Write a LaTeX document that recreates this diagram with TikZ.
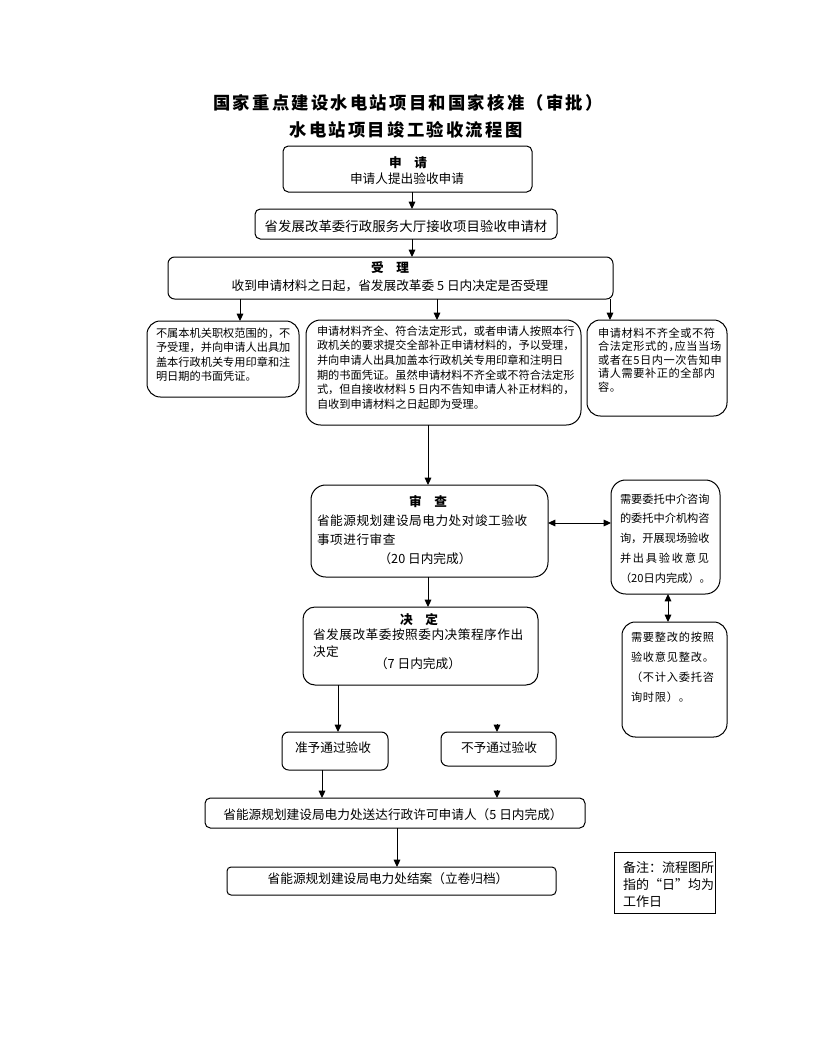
\documentclass[tikz,border=0pt]{standalone}
\usepackage{fontspec}
\setmainfont{Noto Sans CJK SC}
\usetikzlibrary{arrows.meta,calc}
\tikzset{
  box/.style={draw, line width=0.75pt, inner sep=0pt, outer sep=0pt},
  txt/.style={inner sep=0pt, outer sep=0pt, align=left},
  arr/.style={line width=0.75pt, -{Triangle[width=5pt,length=5.5pt]}},
  darr/.style={line width=0.75pt, {Triangle[width=5pt,length=5.5pt]}-{Triangle[width=5pt,length=5.5pt]}},
  mainf/.style={font=\fontsize{9.5}{12}\selectfont},
  headf/.style={font=\fontsize{9.5}{12}\selectfont\bfseries},
  titlef/.style={font=\fontsize{13}{16}\selectfont\bfseries\addfontfeature{LetterSpace=13}},
}
\newcommand\rbox[6]{\node[box, rounded corners=#6, minimum width={(#4-#2)*0.75pt}, minimum height={(#5-#3)*0.75pt}] (#1) at ({(#2+#4)/2},{(#3+#5)/2}) {};}
\begin{document}
\begin{tikzpicture}[x=0.75pt,y=-0.75pt]
\useasboundingbox (0,0) rectangle (816,1056);
% title
\node[txt, titlef] (t1) at (408,103) {国家重点建设水电站项目和国家核准（审批）};
\node[txt, titlef] (t2) at (406,130) {水电站项目竣工验收流程图};
% boxes
\rbox{shenqing}{283}{146}{532}{192}{4pt}
\rbox{jieshou}{255}{209}{557}{239}{4pt}
\rbox{shouli}{168}{257}{613}{299}{5pt}
\rbox{bushu}{147}{321}{299}{397}{10pt}
\rbox{qiquan}{306}{320}{581}{425}{11pt}
\rbox{buqi}{587}{320}{727}{416}{10pt}
\rbox{shencha}{311}{485}{548}{577}{11pt}
\rbox{weituo}{611}{480}{720}{594}{11pt}
\rbox{jueding}{303}{607}{538}{685}{9pt}
\rbox{zhenggai}{622}{622}{727}{737}{10pt}
\rbox{zhunyu}{282}{732}{388}{770}{5pt}
\rbox{buyu}{441}{732}{556}{766}{5pt}
\rbox{songda}{205}{798}{585}{828}{4pt}
\rbox{jiean}{227}{867}{556}{895}{3pt}
\rbox{beizhu}{614}{852}{715}{913}{0pt}
% texts
\node[txt, headf] (sq1) at (408,163) {申　请};
\node[txt, mainf] (sq2) at (407,179) {申请人提出验收申请};
\node[txt, mainf, font=\addfontfeature{LetterSpace=1}] (js1) at (406,226) {省发展改革委行政服务大厅接收项目验收申请材};
\node[txt, headf] (sl1) at (390,268) {受　理};
\node[txt, mainf] (sl2) at (390,286) {收到申请材料之日起，省发展改革委 5 日内决定是否受理};
\node[txt, anchor=north west, font=\fontsize{8.4}{10.9}\selectfont] (bs) at (156,327.7) {不属本机关职权范围的，不\\予受理，并向申请人出具加\\盖本行政机关专用印章和注\\明日期的书面凭证。};
\node[txt, anchor=north west, font=\fontsize{8.4}{10.95}\selectfont] (qq) at (317,325.7) {申请材料齐全、符合法定形式，或者申请人按照本行\\政机关的要求提交全部补正申请材料的，予以受理，\\并向申请人出具加盖本行政机关专用印章和注明日\\期的书面凭证。虽然申请材料不齐全或不符合法定形\\式，但自接收材料 5 日内不告知申请人补正材料的，\\自收到申请材料之日起即为受理。};
\node[txt, anchor=north west, font=\fontsize{8.4}{10.1}\selectfont\addfontfeature{LetterSpace=5,RawFeature=+halt}] (bq) at (598,327.7) {申请材料不齐全或不符\\合法定形式的，应当当场\\或者在5日内一次告知申\\请人需要补正的全部内\\容。};
\node[txt, headf] (sc1) at (428,502) {审　查};
\node[txt, anchor=north west, font=\fontsize{9.5}{14.25}\selectfont\addfontfeature{LetterSpace=4}] (sc2) at (317,515) {省能源规划建设局电力处对竣工验收\\事项进行审查};
\node[txt, mainf] (sc3) at (425,559) {（20 日内完成）};
\node[txt, anchor=north west, font=\fontsize{8.4}{14.8}\selectfont] (wt) at (620,493.7) {需要委托中介咨询\\的委托中介机构咨\\询，开展现场验收\\{\addfontfeature{LetterSpace=16}并出具验收意见}\\（20日内完成）。};
\node[txt, headf] (jd1) at (419,620) {决　定};
\node[txt, anchor=north west, font=\fontsize{9.5}{12.75}\selectfont\addfontfeature{LetterSpace=4}] (jd2) at (313,629) {省发展改革委按照委内决策程序作出\\决定};
\node[txt, mainf] (jd3) at (418,664) {（7 日内完成）};
\node[txt, anchor=north west, font=\fontsize{8.4}{15.2}\selectfont\addfontfeature{LetterSpace=7}] (zg) at (631,631.7) {需要整改的按照\\验收意见整改。\\（不计入委托咨\\询时限）。};
\node[txt, mainf] (zy) at (333,748) {准予通过验收};
\node[txt, mainf] (by) at (499,748) {不予通过验收};
\node[txt, mainf] (sd) at (393,815) {省能源规划建设局电力处送达行政许可申请人（5 日内完成）};
\node[txt, mainf] (ja) at (388,879) {省能源规划建设局电力处结案（立卷归档）};
\node[txt, anchor=north west, font=\fontsize{9.75}{12.75}\selectfont] (bz) at (623,862) {备注：流程图所\\指的“日”均为\\工作日};
% helper coordinates
\coordinate (X412) at (412,0);
\coordinate (X240) at (240,0);
\coordinate (X437) at (437,0);
\coordinate (X610) at (610,0);
\coordinate (X428) at (428,0);
\coordinate (X668) at (668,0);
\coordinate (X338) at (338,0);
\coordinate (X322) at (322,0);
\coordinate (X397) at (397,0);
\coordinate (Y523) at (0,523);
\coordinate (byin) at (497,724);
\coordinate (sdin) at (497,790);
% connectors
\draw[arr] (shenqing.south -| X412) -- (jieshou.north -| X412);
\draw[arr] (jieshou.south -| X412) -- (shouli.north -| X412);
\draw[arr] (shouli.south -| X240) -- (bushu.north -| X240);
\draw[arr] (shouli.south -| X437) -- (qiquan.north -| X437);
\draw[arr] (shouli.south -| X610) -- (buqi.north -| X610);
\draw[arr] (qiquan.south -| X428) -- (shencha.north -| X428);
\draw[arr] (shencha.south -| X428) -- (jueding.north -| X428);
\draw[darr] (shencha.east |- Y523) -- (weituo.west |- Y523);
\draw[darr] (weituo.south -| X668) -- (zhenggai.north -| X668);
\draw[arr] (jueding.south -| X338) -- (zhunyu.north -| X338);
\draw[arr] (byin) -- (buyu.north -| byin);
\draw[arr] (zhunyu.south -| X322) -- (songda.north -| X322);
\draw[arr] (sdin) -- (songda.north -| sdin);
\draw[arr] (songda.south -| X397) -- (jiean.north -| X397);
\end{tikzpicture}
\end{document}
